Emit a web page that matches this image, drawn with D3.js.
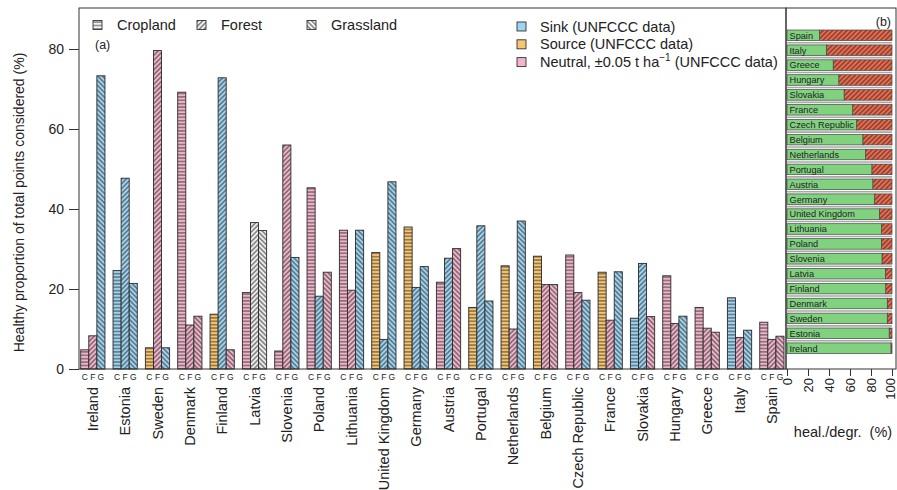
<!DOCTYPE html>
<html>
<head>
<meta charset="utf-8">
<script src="https://cdn.jsdelivr.net/npm/d3@7"></script>
<style>
  body { margin: 0; background: #fff; }
  text { font-family: "Liberation Sans", Arial, sans-serif; fill: #222; }
</style>
</head>
<body>
<div id="root"></div>
<script>
// countries in the order of panel (a)
const countries = ["Ireland", "Estonia", "Sweden", "Denmark", "Finland", "Latvia", "Slovenia", "Poland",
  "Lithuania", "United Kingdom", "Germany", "Austria", "Portugal", "Netherlands", "Belgium",
  "Czech Republic", "France", "Slovakia", "Hungary", "Greece", "Italy", "Spain"];

// healthy proportion (%) per land use
const cropland = [4.8, 24.6, 5.3, 69.2, 13.7, 19.1, 4.5, 45.3, 34.7, 29.1, 35.5, 21.7, 15.4, 25.8, 28.2, 28.5, 24.2, 12.7, 23.3, 15.4, 17.8, 11.7];
const forest = [8.3, 47.7, 79.6, 11.0, 72.8, 36.6, 56.0, 18.2, 19.7, 7.4, 20.4, 27.7, 35.8, 10.0, 21.1, 19.1, 12.2, 26.4, 11.4, 10.2, 7.9, 7.4];
const grassland = [73.3, 21.4, 5.3, 13.2, 4.8, 34.6, 27.9, 24.2, 34.7, 46.8, 25.6, 30.1, 17.0, 37.0, 21.1, 17.2, 24.3, 13.1, 13.2, 9.2, 9.7, 8.2];

// UNFCCC status: K = sink, S = source, N = neutral, X = no data
const croplandStatus = ["N", "K", "S", "N", "S", "N", "N", "N", "N", "S", "S", "N", "S", "S", "S", "N", "S", "K", "N", "N", "K", "N"];
const forestStatus = ["N", "K", "N", "N", "K", "X", "N", "K", "N", "K", "K", "K", "K", "N", "N", "N", "N", "K", "N", "N", "N", "N"];
const grasslandStatus = ["K", "K", "K", "N", "N", "X", "K", "N", "K", "K", "K", "N", "K", "K", "N", "K", "K", "N", "K", "N", "K", "N"];

const landUses = ["C", "F", "G"];
const landNames = ["Cropland", "Forest", "Grassland"];
const statusNames = ["Sink (UNFCCC data)", "Source (UNFCCC data)", "Neutral, \u00b10.05 t ha"];

// panel (b): healing share (%), top to bottom
const healCountries = ["Spain", "Italy", "Greece", "Hungary", "Slovakia", "France", "Czech Republic", "Belgium",
  "Netherlands", "Portugal", "Austria", "Germany", "United Kingdom", "Lithuania", "Poland", "Slovenia",
  "Latvia", "Finland", "Denmark", "Sweden", "Estonia", "Ireland"];
const healing = [31, 37.5, 44, 49.3, 54.4, 62.5, 66.3, 72.2, 74.8, 80.8, 81.7, 83.3, 88, 89.9, 89.9, 90.5, 93.7, 94, 95.5, 95.5, 97.3, 99];

const yTicks = [0, 20, 40, 60, 80];
const bTicks = [0, 20, 40, 60, 80, 100];

const colors = { K: "#9fd4f1", S: "#f8c670", N: "#f1b5cb", X: "#eeeeee" };

const width = 897, height = 490;
const svg = d3.select("#root").append("svg").attr("width", width).attr("height", height);
const defs = svg.append("defs");

// hatch patterns: C horizontal, F "/", G "\"
function makePattern(id, color, kind) {
  const s = 3.4;
  const p = defs.append("pattern").attr("id", id)
    .attr("patternUnits", "userSpaceOnUse")
    .attr("width", kind === "C" ? 10 : s).attr("height", s);
  if (kind === "F") p.attr("patternTransform", "rotate(45)");
  if (kind === "G") p.attr("patternTransform", "rotate(-45)");
  p.append("rect").attr("width", 10).attr("height", 10).attr("fill", color);
  if (kind === "C") {
    p.append("line").attr("x1", 0).attr("x2", 10).attr("y1", s / 2).attr("y2", s / 2)
      .attr("stroke", "#222").attr("stroke-width", 0.85);
  } else {
    p.append("line").attr("x1", s / 2).attr("x2", s / 2).attr("y1", 0).attr("y2", s)
      .attr("stroke", "#222").attr("stroke-width", 0.85);
  }
}
Object.keys(colors).forEach(k => landUses.forEach(l => makePattern(`p-${k}-${l}`, colors[k], l)));
landUses.forEach(l => makePattern(`p-W-${l}`, "#f4f4f4", l));
makePattern("p-red", "#f26b4c", "F");

// ---- panel (a) ----
const aLeft = 79, aRight = 786, aTop = 8, aBottom = 369;

const y = d3.scaleLinear().domain([0, 90.25]).range([aBottom, aTop]);
const x0 = d3.scaleBand().domain(countries).range([80.7, 784]).paddingInner(0.25).paddingOuter(0);
const x1 = d3.scaleBand().domain(landUses).range([0, x0.bandwidth()]);

const bars = [];
countries.forEach((c, i) => {
  bars.push({ country: c, land: "C", value: cropland[i], status: croplandStatus[i] });
  bars.push({ country: c, land: "F", value: forest[i], status: forestStatus[i] });
  bars.push({ country: c, land: "G", value: grassland[i], status: grasslandStatus[i] });
});

svg.append("g").selectAll("rect")
  .data(bars)
  .join("rect")
  .attr("x", d => x0(d.country) + x1(d.land))
  .attr("y", d => y(d.value))
  .attr("width", x1.bandwidth())
  .attr("height", d => y(0) - y(d.value))
  .attr("fill", d => `url(#p-${d.status}-${d.land})`)
  .attr("stroke", "#2a2a2a")
  .attr("stroke-width", 0.9);

// frame
svg.append("rect").attr("x", aLeft).attr("y", aTop).attr("width", aRight - aLeft).attr("height", aBottom - aTop)
  .attr("fill", "none").attr("stroke", "#333").attr("stroke-width", 1);

// y axis
const yAxis = svg.append("g").attr("transform", `translate(${aLeft},0)`)
  .call(d3.axisLeft(y).tickValues(yTicks).tickSize(10).tickPadding(5));
yAxis.select(".domain").remove();
yAxis.selectAll("line").attr("stroke", "#333");
yAxis.selectAll("text").attr("font-size", 14).attr("fill", "#222")
  .style("font-family", "Liberation Sans, Arial, sans-serif");

svg.append("text")
  .attr("transform", `translate(24,${(aTop + aBottom) / 2 + 14}) rotate(-90)`)
  .attr("text-anchor", "middle").attr("font-size", 14)
  .text("Healthy proportion of total points considered (%)");

// C F G letters
svg.append("g").selectAll("text")
  .data(bars)
  .join("text")
  .attr("x", d => x0(d.country) + x1(d.land) + x1.bandwidth() / 2)
  .attr("y", 380)
  .attr("text-anchor", "middle").attr("font-size", 8.5).attr("fill", "#333")
  .text(d => d.land);

// country labels
const xAxis = svg.append("g").attr("transform", "translate(0,385)")
  .call(d3.axisBottom(x0).tickSize(0).tickPadding(0));
xAxis.select(".domain").remove();
xAxis.selectAll("text")
  .attr("font-size", 14.5).attr("fill", "#222")
  .style("font-family", "Liberation Sans, Arial, sans-serif")
  .attr("transform", "rotate(-90)")
  .attr("text-anchor", "end")
  .attr("x", -2).attr("y", 0).attr("dy", "0.36em");

// legend: land use
const landLegendX = [93, 197, 307];
landUses.forEach((l, i) => {
  svg.append("rect").attr("x", landLegendX[i]).attr("y", 20.5).attr("width", 9).attr("height", 9)
    .attr("fill", `url(#p-W-${l})`).attr("stroke", "#333").attr("stroke-width", 0.9);
  svg.append("text").attr("x", landLegendX[i] + 24).attr("y", 30).attr("font-size", 14.5).text(landNames[i]);
});
svg.append("text").attr("x", 95).attr("y", 49).attr("font-size", 12.5).text("(a)");

// legend: status
const statusKeys = ["K", "S", "N"];
statusKeys.forEach((k, i) => {
  const cy = 26.5 + i * 17.8;
  svg.append("rect").attr("x", 517).attr("y", cy - 4.5).attr("width", 9).attr("height", 9)
    .attr("fill", colors[k]).attr("stroke", "#333").attr("stroke-width", 0.9);
  const t = svg.append("text").attr("x", 540).attr("y", cy + 5).attr("font-size", 14.5).text(statusNames[i]);
  if (k === "N") {
    t.append("tspan").attr("dy", -6).attr("font-size", 10).text("\u22121");
    t.append("tspan").attr("dy", 6).text(" (UNFCCC data)");
  }
});

// ---- panel (b) ----
const bLeft = 786, bRight = 896;
const xb = d3.scaleLinear().domain([0, 100]).range([787, 892]);
const step = 14.9;
const yb = d3.scaleBand().domain(healCountries)
  .range([35.3 - step / 2, 35.3 - step / 2 + step * healCountries.length])
  .paddingInner(0.29).paddingOuter(0.145);

// separators between rows
svg.append("g").selectAll("line")
  .data(healCountries.slice(1))
  .join("line")
  .attr("x1", 787).attr("x2", 892)
  .attr("y1", d => yb(d) - yb.step() * yb.paddingInner() / 2)
  .attr("y2", d => yb(d) - yb.step() * yb.paddingInner() / 2)
  .attr("stroke", "#a8a8a8").attr("stroke-width", 1.6);

const bRows = svg.append("g").selectAll("g")
  .data(healCountries.map((c, i) => ({ country: c, value: healing[i] })))
  .join("g");

bRows.append("rect")
  .attr("x", d => xb(d.value)).attr("y", d => yb(d.country))
  .attr("width", d => xb(100) - xb(d.value)).attr("height", yb.bandwidth())
  .attr("fill", "url(#p-red)").attr("stroke", "#444").attr("stroke-width", 0.7);
bRows.append("rect")
  .attr("x", xb(0)).attr("y", d => yb(d.country))
  .attr("width", d => xb(d.value) - xb(0)).attr("height", yb.bandwidth())
  .attr("fill", "#80d27f").attr("stroke", "#444").attr("stroke-width", 0.7);
bRows.append("text")
  .attr("x", xb(0) + 2.5).attr("y", d => yb(d.country) + yb.bandwidth() / 2)
  .attr("dy", "0.36em").attr("font-size", 9.2).attr("fill", "#222")
  .text(d => d.country);

svg.append("rect").attr("x", bLeft).attr("y", aTop).attr("width", bRight - bLeft).attr("height", aBottom - aTop)
  .attr("fill", "none").attr("stroke", "#333").attr("stroke-width", 1);
svg.append("text").attr("x", 891).attr("y", 26).attr("text-anchor", "end").attr("font-size", 12.5).text("(b)");

const bAxis = svg.append("g").attr("transform", `translate(0,${aBottom})`)
  .call(d3.axisBottom(xb).tickValues(bTicks).tickSize(7).tickSizeOuter(0));
bAxis.select(".domain").remove();
bAxis.selectAll("line").attr("stroke", "#333");
bAxis.selectAll("text")
  .attr("font-size", 13).attr("fill", "#222")
  .style("font-family", "Liberation Sans, Arial, sans-serif")
  .attr("transform", "rotate(-90)")
  .attr("text-anchor", "end")
  .attr("x", -9).attr("y", 0).attr("dy", d => d === 100 ? "0.2em" : "0.36em");

svg.append("text").attr("x", 843).attr("y", 437).attr("text-anchor", "middle").attr("font-size", 14.5)
  .attr("xml:space", "preserve").style("white-space", "pre")
  .text("heal./degr.  (%)");
</script>
</body>
</html>
